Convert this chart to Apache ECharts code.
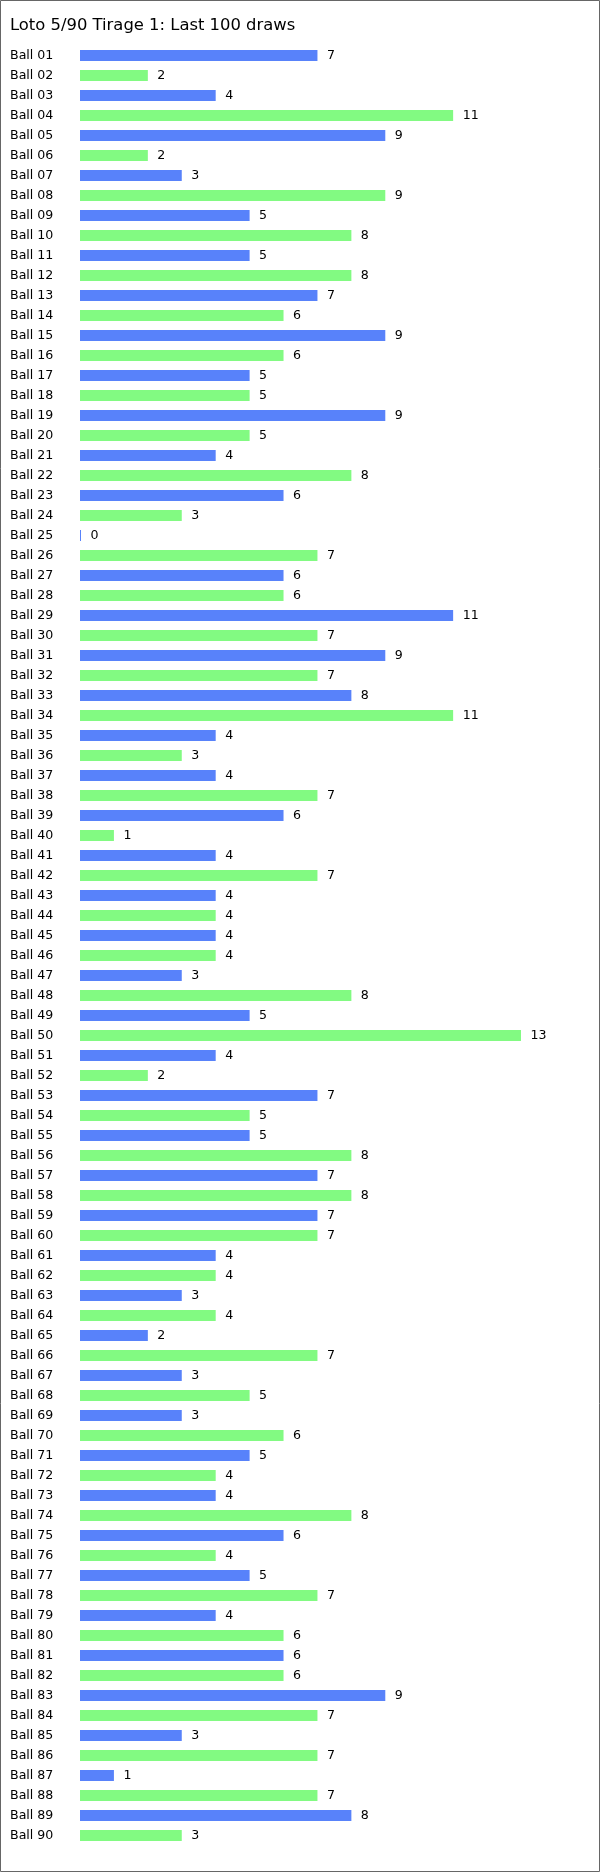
<!DOCTYPE html>
<html>
<head>
<meta charset="utf-8">
<script src="https://cdn.jsdelivr.net/npm/echarts@6/dist/echarts.min.js"></script>
<style>
html,body{margin:0;padding:0;background:#fff;}
#chart{width:600px;height:1872px;}
</style>
</head>
<body>
<div id="chart"></div>
<script>
var titleText = 'Loto 5/90 Tirage 1: Last 100 draws';
var categories = [];
for (var i = 1; i <= 90; i++) { categories.push('Ball ' + (i < 10 ? '0' + i : '' + i)); }
var counts01_30 = [7,2,4,11,9,2,3,9,5,8, 5,8,7,6,9,6,5,5,9,5, 4,8,6,3,0,7,6,6,11,7];
var counts31_60 = [9,7,8,11,4,3,4,7,6,1, 4,7,4,4,4,4,3,8,5,13, 4,2,7,5,5,8,7,8,7,7];
var counts61_90 = [4,4,3,4,2,7,3,5,3,6, 5,4,4,8,6,4,5,7,4,6, 6,6,9,7,3,7,1,7,8,3];
var values = counts01_30.concat(counts31_60, counts61_90);
var barColors = ['#5882FA', '#82FA82'];

var chart = echarts.init(document.getElementById('chart'), null, {renderer: 'canvas'});
chart.setOption({
  animation: false,
  backgroundColor: '#fff',
  title: {
    text: titleText,
    left: 10,
    top: 18,
    padding: 0,
    textStyle: {fontFamily: 'DejaVu Sans', fontSize: 16.4, fontWeight: 'normal', color: '#000'}
  },
  graphic: [{
    type: 'rect',
    shape: {x: 0.5, y: 0.5, width: 599, height: 1871},
    style: {fill: 'none', stroke: '#666', lineWidth: 1},
    silent: true
  }],
  grid: {left: 80, right: 45.1, top: 45.5, height: 1800, containLabel: false},
  xAxis: {
    type: 'value', min: 0, max: 14, show: false,
    splitLine: {show: false}
  },
  yAxis: {
    type: 'category', data: categories, inverse: true,
    axisLine: {show: false}, axisTick: {show: false},
    axisLabel: {
      align: 'left', margin: 70, interval: 0,
      fontFamily: 'DejaVu Sans', fontSize: 12.6, color: '#000'
    }
  },
  series: [{
    type: 'bar',
    data: values,
    barWidth: 11,
    barMinHeight: 1,
    itemStyle: {
      color: function (p) { return barColors[p.dataIndex % 2]; }
    },
    label: {
      show: true, position: 'right', distance: 9.5,
      fontFamily: 'DejaVu Sans', fontSize: 12.6, color: '#000'
    }
  }]
});
</script>
</body>
</html>
